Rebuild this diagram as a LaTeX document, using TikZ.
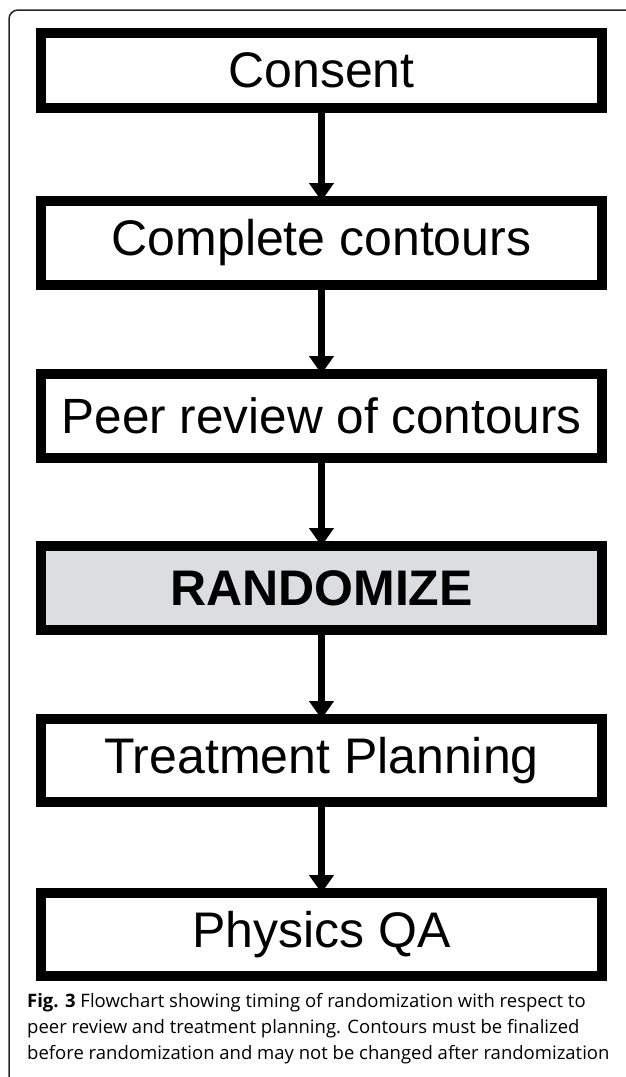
\documentclass[tikz,border=0pt]{standalone}
\usepackage{fontspec}
\setmainfont{Liberation Sans}
\newfontfamily\capfont{Open Sans}
\usetikzlibrary{arrows.meta}

\tikzset{
	stepbox/.style={draw=black, line width=10pt, fill=white, minimum width=561pt,
		inner sep=0pt, font=\fontsize{50}{60}\selectfont},
	flowarrow/.style={line width=6.5pt, -{Triangle[width=24pt,length=18pt]}, shorten >=-5pt},
	captext/.style={anchor=base west, inner sep=0pt, font=\capfont\fontsize{18.5}{26}\selectfont}
}

\begin{document}
\begin{tikzpicture}[x=1pt,y=-1pt]
	\useasboundingbox (0,0) rectangle (625,1077);
	\draw[line width=1.5pt, black!85, rounded corners=9pt] (626,10) -- (9,10) -- (9,1078);
	\node[stepbox, minimum height=75pt] (consent) at (321.5,70.5) {Consent};
	\node[stepbox, minimum height=84pt] (contours) at (321.5,243) {Complete contours};
	\node[stepbox, minimum height=84pt, font=\fontsize{49.5}{60}\selectfont] (peer) at (321.5,416) {Peer review of contours};
	\node[stepbox, minimum height=84pt, fill={rgb,255:red,220;green,221;blue,223}, font=\fontsize{50}{60}\selectfont\bfseries] (random) at (321.5,588) {RANDOMIZE};
	\node[stepbox, minimum height=83pt] (planning) at (321.5,760.5) {Treatment Planning};
	\node[stepbox, minimum height=83pt] (physics) at (321.5,934.5) {Physics QA};
	\draw[flowarrow] (consent) -- (contours);
	\draw[flowarrow] (contours) -- (peer);
	\draw[flowarrow] (peer) -- (random);
	\draw[flowarrow] (random) -- (planning);
	\draw[flowarrow] (planning) -- (physics);
	\node[captext] (fig) at (27,1007) {\textbf{Fig. 3} Flowchart showing timing of randomization with respect to};
	\node[captext] (cap2) at (27,1033) {peer review and treatment planning. Contours must be finalized};
	\node[captext] (cap3) at (27,1059) {before randomization and may not be changed after randomization};
\end{tikzpicture}
\end{document}
